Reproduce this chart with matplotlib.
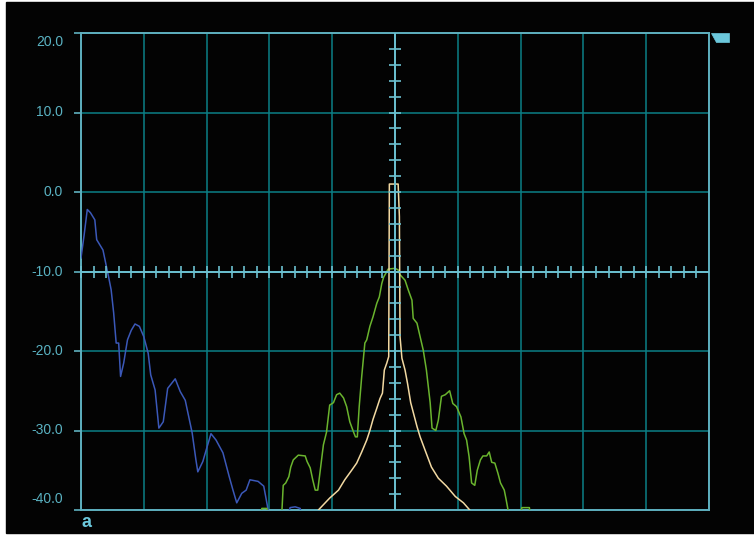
import matplotlib
matplotlib.use("Agg")
import matplotlib.pyplot as plt
from matplotlib.patches import Polygon, Rectangle
from matplotlib.transforms import offset_copy, blended_transform_factory
import numpy as np

# ---- trace data: frequency offset in screen divisions (centre = 0), level in dB ----
blue_x = [-5.00, -4.95, -4.90, -4.85, -4.78, -4.75, -4.65, -4.60, -4.56, -4.52,
          -4.48, -4.44, -4.40, -4.37, -4.32, -4.26, -4.20, -4.14, -4.07, -4.00,
          -3.93, -3.89, -3.82, -3.76, -3.69, -3.62, -3.50, -3.42, -3.34, -3.23,
          -3.17, -3.14, -3.06, -2.99, -2.93, -2.85, -2.74, -2.64, -2.58, -2.52,
          -2.44, -2.37, -2.31, -2.18, -2.09, -2.05, -2.02, -1.99, -1.75, -1.67,
          -1.59, -1.51, -1.47]
blue_db = [-8.3, -5.4, -2.2, -2.6, -3.5, -6.0, -7.3, -9.2, -10.7, -12.3,
           -15.2, -19.0, -19.0, -23.2, -21.5, -18.6, -17.4, -16.6, -16.9, -18.2,
           -20.3, -23.0, -24.9, -29.7, -28.9, -24.7, -23.5, -25.1, -26.2, -30.3,
           -33.7, -35.2, -33.9, -32.0, -30.4, -31.2, -32.8, -35.8, -37.5, -39.1,
           -37.9, -37.5, -36.2, -36.4, -37.0, -38.7, -40.0, -42.0, -42.0, -39.7,
           -39.6, -39.8, -42.0]

green_x = [-2.18, -2.12, -2.04, -1.99, -1.85, -1.80, -1.78, -1.74, -1.69, -1.66,
           -1.62, -1.54, -1.43, -1.40, -1.35, -1.31, -1.27, -1.23, -1.19, -1.14,
           -1.09, -1.04, -0.98, -0.93, -0.88, -0.82, -0.77, -0.72, -0.66, -0.63,
           -0.60, -0.57, -0.53, -0.48, -0.45, -0.40, -0.35, -0.29, -0.25, -0.21,
           -0.18, -0.13, -0.11, 0.00, 0.05, 0.08, 0.16, 0.21, 0.27, 0.29,
           0.35, 0.40, 0.45, 0.50, 0.56, 0.59, 0.65, 0.69, 0.74, 0.80,
           0.87, 0.92, 0.98, 1.05, 1.10, 1.14, 1.18, 1.22, 1.27, 1.31,
           1.36, 1.40, 1.46, 1.50, 1.54, 1.59, 1.64, 1.68, 1.74, 1.77,
           1.80, 1.83, 1.97, 2.02, 2.14, 2.17]
green_db = [-42.0, -39.8, -39.8, -42.0, -42.0, -40.0, -36.9, -36.6, -35.8, -34.6,
            -33.7, -33.1, -33.2, -33.9, -34.7, -36.2, -37.5, -37.5, -35.0, -31.8,
            -30.2, -26.8, -26.5, -25.5, -25.3, -25.9, -27.0, -28.9, -30.2, -30.8,
            -30.8, -27.0, -23.2, -19.0, -18.6, -16.9, -15.7, -14.0, -13.2, -11.5,
            -10.7, -10.0, -9.7, -9.6, -9.8, -10.4, -11.1, -12.3, -13.6, -15.9,
            -16.5, -18.2, -19.9, -22.4, -26.5, -29.7, -30.0, -28.7, -25.7, -25.5,
            -25.0, -26.6, -27.0, -28.3, -30.4, -31.2, -33.3, -36.6, -36.9, -35.0,
            -33.7, -33.2, -33.2, -32.7, -34.0, -34.1, -35.4, -36.6, -37.5, -38.7,
            -40.0, -42.0, -42.0, -39.7, -39.7, -42.0]

beige_x = [-1.26, -1.22, -1.04, -0.90, -0.80, -0.69, -0.61, -0.53, -0.45, -0.40,
           -0.35, -0.29, -0.24, -0.20, -0.17, -0.13, -0.10, -0.09, 0.05, 0.07,
           0.08, 0.11, 0.16, 0.20, 0.25, 0.31, 0.35, 0.40, 0.48, 0.58,
           0.69, 0.82, 0.96, 1.09, 1.19, 1.23]
beige_db = [-42.0, -40.0, -38.5, -37.5, -36.2, -35.0, -34.1, -32.7, -31.2, -30.0,
            -28.6, -27.2, -26.0, -25.3, -22.4, -21.5, -20.7, 1.0, 1.0, -3.1,
            -18.2, -20.9, -22.4, -24.1, -26.5, -28.3, -29.5, -30.8, -32.5, -34.6,
            -36.0, -37.0, -38.3, -39.1, -40.0, -42.0]

y_ticks = [20, 10, 0, -10, -20, -30, -40]
y_labels = ["20.0", "10.0", "0.0", "-10.0", "-20.0", "-30.0", "-40.0"]
ref_level = -10

# ---- colours ----
BG = "#030303"
GRID = "#0b7f86"
FRAME = "#5fb0bf"
CROSS = "#6cc0d0"
TEXT = "#5ab2c2"
BLUE = "#3b58b8"
GREEN = "#6ab42e"
BEIGE = "#f2d9a2"

plt.rcParams["font.family"] = ["Liberation Sans", "DejaVu Sans"]

W, H = 754, 535
fig = plt.figure(figsize=(W / 100, H / 100), dpi=100, facecolor="white")
fig.patches.append(Rectangle((6 / W, 2 / H), 748 / W, 531 / H,
                             transform=fig.transFigure, color=BG, zorder=-10))

ax = fig.add_axes([81 / W, 25 / H, 628 / W, 477 / H])
ax.set_facecolor(BG)
ax.set_xlim(-5, 5)
ax.set_ylim(-40, 20)

# screen graticule
ax.set_xticks(np.arange(-5, 5.01, 1))
ax.set_yticks(y_ticks)
ax.grid(True, color=GRID, lw=1.1)
ax.set_axisbelow(True)
ax.tick_params(axis="x", length=0, labelbottom=False)
ax.tick_params(axis="y", length=5, width=1.2, color=FRAME, labelleft=False)
for sp in ax.spines.values():
    sp.set_color(FRAME)
    sp.set_linewidth(1.4)

# level labels on the left edge
trans = blended_transform_factory(ax.transAxes, ax.transData)
for val, lab in zip(y_ticks, y_labels):
    dy = 0
    if val == max(y_ticks):
        dy = -9
    elif val == min(y_ticks):
        dy = 11
    t = offset_copy(trans, fig=fig, x=-18, y=dy, units="dots")
    ax.text(0, val, lab, transform=t, ha="right", va="center",
            color=TEXT, fontsize=10)

# traces
ax.plot(blue_x, blue_db, color=BLUE, lw=1.1, zorder=3)
ax.plot(green_x, green_db, color=GREEN, lw=1.1, zorder=3)
ax.plot(beige_x, beige_db, color=BEIGE, lw=1.1, zorder=3)

# centre crosshair with minor division ticks
ax.axhline(ref_level, color=CROSS, lw=1.4, zorder=4)
ax.axvline(0, color=CROSS, lw=1.4, zorder=4)
hx = np.arange(-5, 4.9, 0.2)
ax.plot(hx, np.full_like(hx, ref_level), ls="none", marker="|", ms=9, mew=1.2,
        color=CROSS, zorder=4, clip_on=False)
vy = np.arange(-38, 19, 2)
ax.plot(np.zeros_like(vy), vy, ls="none", marker="_", ms=9, mew=1.2,
        color=CROSS, zorder=4)

# reference-level flag at top right and trace marker at bottom left
ax.add_patch(Polygon([(1.0027, 1.0), (1.0323, 1.0), (1.0323, 0.9805), (1.0111, 0.9805)],
                     closed=True, transform=ax.transAxes, clip_on=False,
                     facecolor="#6cc8dc", edgecolor="#6cc8dc", lw=0.5))
ax.text(0.008, -0.027, "a", transform=ax.transAxes, ha="center", va="center",
        color="#6cc8dc", fontsize=13, fontweight="bold")

fig.savefig("out.png", dpi=100, facecolor=fig.get_facecolor())
